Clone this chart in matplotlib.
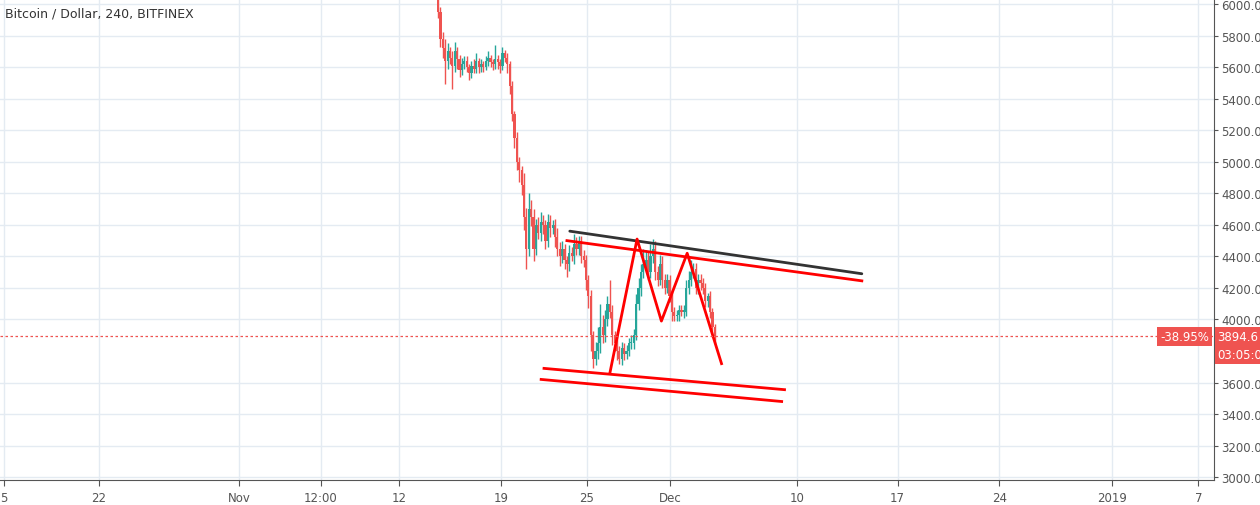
import matplotlib
matplotlib.use("Agg")
import matplotlib.pyplot as plt

# 4h closes, Nov 14 -> Dec 3 (6 candles per day)
closes = [
    5950, 5780, 5720, 5640, 5700, 5660,
    5610, 5700, 5650, 5580, 5620, 5640,
    5600, 5560, 5610, 5590, 5640, 5600,
    5620, 5600, 5640, 5660, 5630, 5620,
    5650, 5630, 5610, 5690, 5660, 5620,
    5480, 5300, 5150, 5000, 4950, 4850,
    4650, 4450, 4700, 4650, 4450, 4600,
    4550, 4620, 4600, 4500, 4620, 4580,
    4600, 4520, 4450, 4400, 4450, 4380,
    4350, 4420, 4400, 4480, 4450, 4500,
    4400, 4380, 4250, 4150, 3900, 3750,
    3800, 3850, 3950, 3900, 4000, 4100,
    4050, 3900, 3850, 3800, 3750, 3820,
    3780, 3800, 3850, 3850, 3900, 4100,
    4200, 4300, 4350, 4380, 4300, 4400,
    4450, 4300, 4250, 4350, 4250, 4200,
    4250, 4150, 4050, 4020, 4030, 4060,
    4050, 4050, 4200, 4250, 4300, 4320,
    4200, 4250, 4230, 4200, 4120, 4150,
    4050, 3950, 3895,
]
first_open = 6100
wick_up = [
    80, 30, 40, 60, 50, 30,
    40, 60, 30, 30, 40, 30,
    30, 20, 30, 40, 50, 20,
    30, 20, 30, 40, 20, 20,
    90, 30, 20, 40, 20, 30,
    20, 30, 20, 40, 30, 20,
    80, 60, 100, 60, 50, 40,
    50, 60, 40, 30, 50, 40,
    30, 40, 60, 40, 50, 30,
    20, 50, 40, 60, 40, 30,
    30, 40, 30, 30, 40, 30,
    60, 100, 150, 80, 60, 50,
    150, 40, 30, 50, 30, 40,
    30, 40, 30, 50, 40, 60,
    60, 50, 100, 60, 50, 80,
    60, 50, 40, 60, 50, 40,
    40, 30, 40, 30, 30, 30,
    30, 40, 50, 60, 80, 40,
    40, 40, 40, 30, 30, 20,
    30, 20, 20,
]
wick_dn = [
    40, 50, 60, 150, 50, 40,
    150, 40, 60, 40, 30, 30,
    30, 40, 30, 30, 30, 40,
    30, 30, 20, 30, 30, 40,
    30, 40, 50, 30, 30, 60,
    50, 40, 60, 50, 80, 60,
    80, 130, 50, 60, 80, 40,
    40, 50, 60, 50, 40, 60,
    40, 60, 50, 60, 40, 60,
    80, 40, 30, 50, 40, 40,
    40, 50, 60, 80, 100, 60,
    40, 50, 60, 50, 40, 40,
    40, 60, 50, 60, 30, 40,
    40, 30, 30, 40, 40, 30,
    40, 50, 40, 30, 50, 40,
    40, 50, 40, 30, 50, 40,
    30, 40, 60, 30, 30, 40,
    30, 40, 30, 40, 40, 40,
    40, 40, 40, 40, 40, 40,
    40, 40, 50,
]
start_day = 13.9  # days since Nov 1

tick_days = [-16.4, -9.8, 0, 5.7, 11.2, 18.3, 24.3, 30.1, 39.0, 46.0, 53.1, 61.0, 67.0]
tick_labels = ["5", "22", "Nov", "12:00", "12", "19", "25", "Dec", "10", "17", "24", "2019", "7"]
price_ticks = [3000, 3200, 3400, 3600, 4000, 4200, 4400, 4600, 4800, 5000,
               5200, 5400, 5600, 5800, 6000]

last_price = 3894.6
black_line = ([23.1, 43.5], [4560, 4290])
red_top = ([22.9, 43.5], [4500, 4245])
chan_a = ([21.3, 38.1], [3690, 3555])
chan_b = ([21.1, 37.9], [3620, 3480])
zigzag = ([25.9, 27.8, 29.5, 31.3, 33.7], [3660, 4510, 3990, 4420, 3720])

UP, DN = "#26a69a", "#ef5350"

fig = plt.figure(figsize=(12.6, 5.06), dpi=100)
ax = fig.add_axes([0.0, 0.049, 0.9635, 0.951])

opens = [first_open] + closes[:-1]
for i, (o, c) in enumerate(zip(opens, closes)):
    x = start_day + i / 6
    col = UP if c >= o else DN
    ax.vlines(x, min(o, c) - wick_dn[i], max(o, c) + wick_up[i], color=col, lw=1)
    ax.bar(x, max(abs(c - o), 8), bottom=min(o, c), width=0.15, color=col, lw=0)

ax.plot(*black_line, color="#333333", lw=2, solid_capstyle="round")
for ln in (red_top, chan_a, chan_b, zigzag):
    ax.plot(*ln, color="#ff0000", lw=2)
ax.axhline(last_price, color="#ef5350", lw=0.9, ls=(0, (2, 2)))

ax.set_xlim(-16.7, 68.1)
ax.set_ylim(2981, 6032)
ax.set_xticks(tick_days, tick_labels)
ax.set_yticks(price_ticks, [f"{p:.1f}" for p in price_ticks])
ax.yaxis.tick_right()
ax.grid(color="#e4ebf2", lw=1)
ax.set_axisbelow(True)
for s in ("top", "left"):
    ax.spines[s].set_visible(False)
for s in ("right", "bottom"):
    ax.spines[s].set_color("#555555")
ax.tick_params(colors="#555555", labelsize=8.5, length=4)
ax.tick_params(axis="y", pad=2, length=3)

bbox = dict(boxstyle="square,pad=0.25", fc="#ef5350", ec="none")
ax.text(1.003, last_price, "3894.6", transform=ax.get_yaxis_transform(),
        va="center", ha="left", color="white", fontsize=8.5, bbox=bbox)
ax.text(1.003, last_price - 115, "03:05:08", transform=ax.get_yaxis_transform(),
        va="center", ha="left", color="white", fontsize=8.5, bbox=bbox)
ax.text(0.996, last_price, "-38.95%", transform=ax.get_yaxis_transform(),
        va="center", ha="right", color="white", fontsize=8.5, bbox=bbox)
ax.text(0.004, 0.985, "Bitcoin / Dollar, 240, BITFINEX", transform=ax.transAxes,
        va="top", ha="left", color="#333333", fontsize=9)

fig.savefig("out.png")
